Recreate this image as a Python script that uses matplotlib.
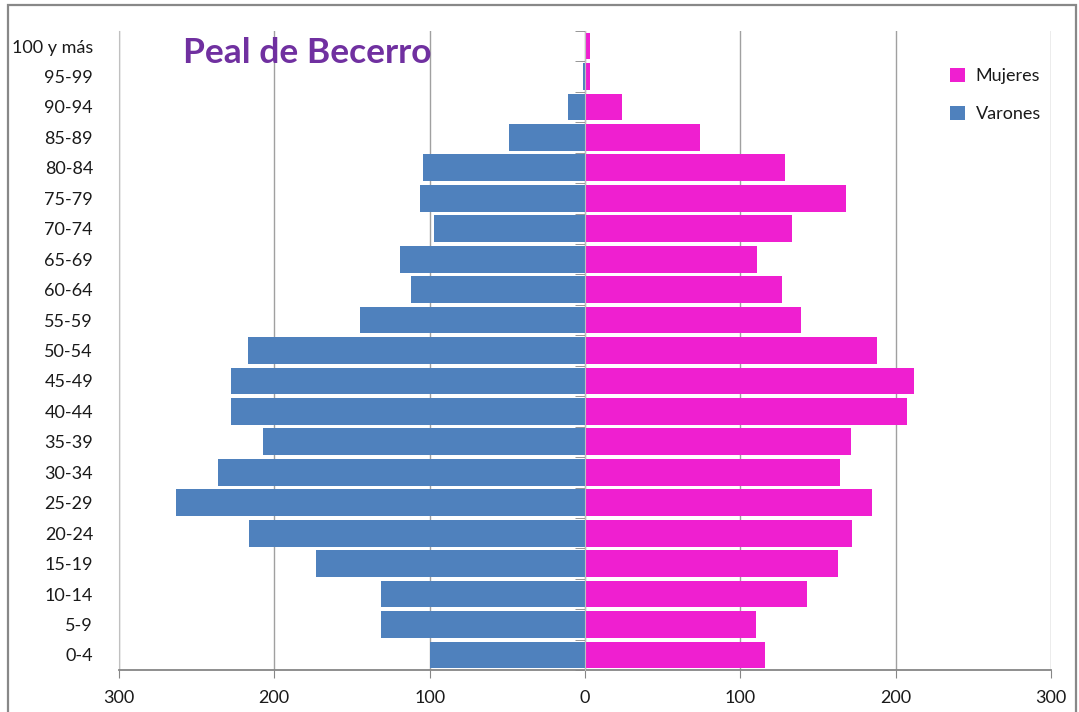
import matplotlib.pyplot as plt
import numpy as np
from matplotlib.patches import Rectangle

# age groups from youngest to oldest
grupos = ['0-4', '5-9', '10-14', '15-19', '20-24', '25-29', '30-34', '35-39',
          '40-44', '45-49', '50-54', '55-59', '60-64', '65-69', '70-74', '75-79',
          '80-84', '85-89', '90-94', '95-99', '100 y más']
varones = [100, 131, 131, 173, 216, 263, 236, 207, 228, 228, 217, 145, 112, 119,
           97, 106, 104, 49, 11, 1, 0]
mujeres = [116, 110, 143, 163, 172, 185, 164, 171, 207, 212, 188, 139, 127, 111,
           133, 168, 129, 74, 24, 3, 3]
xticks = [-300, -200, -100, 0, 100, 200, 300]

plt.rcParams['font.family'] = ['Lato', 'DejaVu Sans']

fig = plt.figure(figsize=(10.79, 7.12), dpi=100)
ax = fig.add_axes([0.1101, 0.0587, 0.8641, 0.898])

y = np.arange(len(grupos))
ax.barh(y, [-v for v in varones], height=0.88, color='#4F81BD', label='Varones', zorder=3)
ax.barh(y, mujeres, height=0.88, color='#EF1FD0', label='Mujeres', zorder=3)

ax.set_xlim(-300, 300)
ax.set_ylim(-0.5, len(grupos) - 0.5)
ax.set_xticks(xticks)
ax.set_xticklabels([str(abs(t)) for t in xticks])
ax.set_yticks(y)
ax.set_yticklabels(grupos)
ax.set_yticks(np.arange(len(grupos) + 1) - 0.5, minor=True)

ax.grid(axis='x', color='#a0a0a0', linewidth=1, zorder=0)
ax.tick_params(axis='x', length=6, color='#868686', labelsize=13, pad=8,
               labelcolor='#1a1a1a')
ax.tick_params(axis='y', which='major', left=False, right=False, labelsize=13,
               pad=15, labelcolor='#1a1a1a')
ax.tick_params(axis='y', which='minor', left=False, right=True, direction='in',
               length=7, color='#868686')

# category axis sits at zero
ax.spines['right'].set_position(('data', 0))
ax.spines['right'].set_color('#bfbfbf')
ax.spines['right'].set_zorder(4)
ax.spines['left'].set_color('#c0c0c0')
ax.spines['top'].set_visible(False)
ax.spines['bottom'].set_color('#868686')
ax.spines['bottom'].set_linewidth(1.3)

fig.text(183 / 1079, 1 - 53 / 712, 'Peal de Becerro', fontsize=25.5, fontweight='bold',
         color='#7030A0', va='center', ha='left')

handles, labels = ax.get_legend_handles_labels()
ax.legend(handles[::-1], labels[::-1], loc='upper left',
          bbox_to_anchor=(934 / 1079, 1 - 52 / 712), bbox_transform=fig.transFigure,
          frameon=False, fontsize=13, handlelength=0.8, handleheight=0.8,
          handletextpad=0.6, labelspacing=1.2, labelcolor='#1a1a1a')

# chart border
fig.patches.append(Rectangle((8 / 1079, -0.05), 1068 / 1079, 1.05 - 5 / 712,
                             transform=fig.transFigure, fill=False,
                             edgecolor='#888888', linewidth=1.6))

plt.savefig('out.png', dpi=100)
